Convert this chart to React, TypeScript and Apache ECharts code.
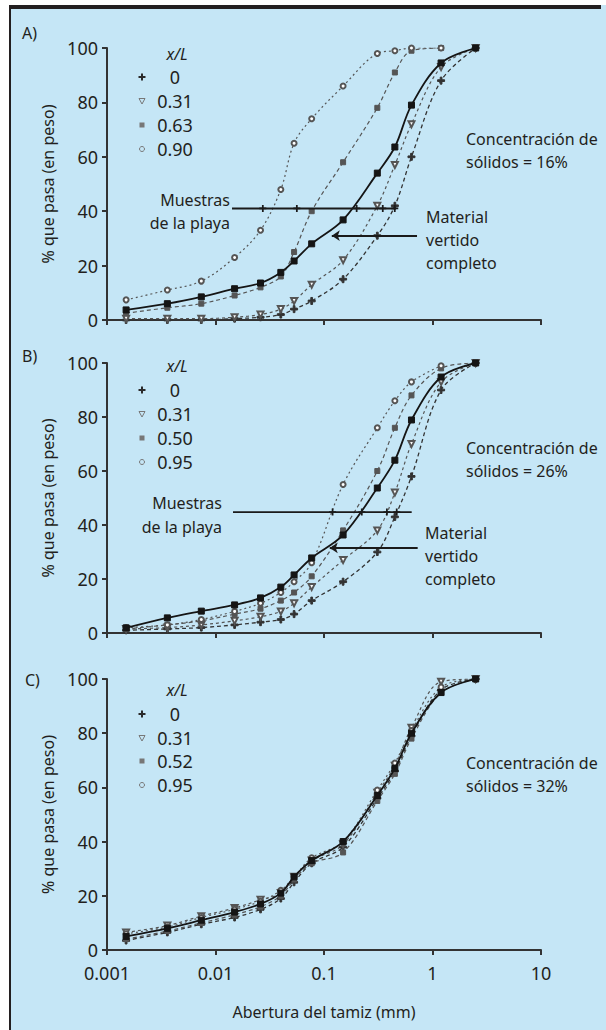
import React, { useEffect, useRef } from "react";
import * as echarts from "echarts";

// ---------- DATA ----------
const SIEVE_MM = [0.0015, 0.0036, 0.0074, 0.015, 0.026, 0.04, 0.053, 0.077, 0.15, 0.31, 0.45, 0.64, 1.2, 2.5];
const Y_TICKS = [0, 20, 40, 60, 80, 100];
const X_TICKS = ["0.001", "0.01", "0.1", "1", "10"];
const X_NAME = "Abertura del tamiz (mm)";
const Y_NAME = "% que pasa (en peso)";
const PANEL_LABELS = ["A)", "B)", "C)"];
const CONCENTRATIONS = ["16%", "26%", "32%"];
const LEGEND_A = ["0", "0.31", "0.63", "0.90"];
const LEGEND_B = ["0", "0.31", "0.50", "0.95"];
const LEGEND_C = ["0", "0.31", "0.52", "0.95"];

// Panel A (16 %)
const A_VERTIDO = [3.7, 6, 8.5, 11.5, 13.6, 17.5, 21.7, 28, 36.8, 54, 63.6, 79, 94.5, 100];
const A_X0 = [0, 0, 0, 0.5, 1, 2, 4, 7, 15, 31, 42, 60, 88, 100];
const A_X031 = [0.5, 0.5, 0.5, 1, 2, 4, 7, 13, 22, 42, 57, 72, 93, 100];
const A_X063 = [2.5, 4.5, 6, 9, 12, 16, 25, 40, 58, 78, 91, 99, 100, null];
const A_X090 = [7.4, 11, 14.3, 23, 33, 48, 65, 74, 86, 98, 99, 100, 100, null];
const MUESTRAS_A_X = [0.0142, 0.0273, 0.0562, 0.2, 0.348, 0.449];
const MUESTRAS_A_Y = 41;
const VERTIDO_ARROW_A = [[0.72, 31], [0.118, 31]];

// Panel B (26 %)
const B_VERTIDO = [1.9, 5.6, 8.1, 10.4, 13, 17, 21.5, 27.8, 36.3, 53.7, 64, 78.9, 94.8, 100];
const B_X0 = [1, 1.5, 2, 3, 4, 5, 7, 12, 19, 30, 43, 58, 90, 100];
const B_X031 = [1.5, 2, 3, 4.5, 6, 8, 11, 17, 27, 38, 52, 70, 93, 100];
const B_X050 = [1.5, 3, 4.5, 7, 9, 12, 15, 21, 38, 60, 76, 88, 98, 100];
const B_X095 = [2, 3, 5, 8, 11, 15, 19, 26, 55, 76, 86, 93, 99, null];
const MUESTRAS_B_X = [0.0145, 0.12, 0.223, 0.38, 0.468, 0.643];
const MUESTRAS_B_Y = 44.8;
const VERTIDO_ARROW_B = [[0.73, 31.5], [0.113, 31.5]];

// Panel C (32 %)
const C_VERTIDO = [5, 8, 11, 14, 17, 21, 27, 33, 40, 57, 67, 80, 95, 100];
const C_X0 = [3.5, 6.5, 9.5, 12, 15, 19, 25, 32, 38, 56, 66, 79, 96, 100];
const C_X031 = [6.5, 9, 12.5, 15.5, 18.5, 21, 27, 33, 39, 58, 68, 82, 99, 100];
const C_X052 = [4, 7, 10, 13, 16, 20, 26, 32, 36, 55, 65, 78, 95, 100];
const C_X095 = [6, 8.5, 12, 15, 18, 22, 27, 34, 40, 59, 69, 81, 97, 100];

// ---------- STYLE ----------
const FONT = "'Noto Sans', sans-serif";
const TEXT = "#231f20";
const AXIS = "#333333";
const BG = "#c5e6f6";
const PLUS = "path://M3,0H5V3H8V5H5V8H3V5H0V3H3Z";
const GRIDS = [
  { top: 48, height: 272 },
  { top: 363, height: 270 },
  { top: 679, height: 271 },
];
const SERIES_STYLE: any = {
  vertido: { color: "#151515", type: "solid", width: 1.8, symbol: "rect", size: 6, rotate: 0 },
  s0: { color: "#333333", type: [4, 3], width: 1.3, symbol: PLUS, size: 7, rotate: 0 },
  s1: { color: "#555555", type: [3, 3], width: 1.2, symbol: "emptyTriangle", size: 6, rotate: 180 },
  s2: { color: "#555555", type: [4, 3], width: 1.2, symbol: "rect", size: 5, rotate: 0 },
  s3: { color: "#555555", type: [2, 3], width: 1.2, symbol: "emptyCircle", size: 5, rotate: 0 },
};

function curve(name: string, values: (number | null)[], gi: number, key: string) {
  const st = SERIES_STYLE[key];
  const data: number[][] = [];
  values.forEach((v, k) => {
    if (v !== null && v !== undefined) data.push([SIEVE_MM[k], v]);
  });
  return {
    type: "line",
    name,
    xAxisIndex: gi,
    yAxisIndex: gi,
    data,
    smooth: 0.35,
    symbol: st.symbol,
    symbolSize: st.size,
    symbolRotate: st.rotate,
    lineStyle: { color: st.color, width: st.width, type: st.type },
    itemStyle: { color: st.color, borderColor: st.color },
    z: key === "vertido" ? 5 : 3,
  };
}

function muestrasLine(xs: number[], y: number, gi: number) {
  return {
    type: "line",
    name: "Muestras de la playa",
    xAxisIndex: gi,
    yAxisIndex: gi,
    data: xs.map((x, k) => ({ value: [x, y], symbol: k === 0 || (k === xs.length - 1 && gi === 1) ? "none" : PLUS })),
    symbol: PLUS,
    symbolSize: 7,
    lineStyle: { color: "#1a1a1a", width: 1.8 },
    itemStyle: { color: "#1a1a1a" },
    z: 6,
  };
}

function arrowLine(coords: number[][], gi: number) {
  return {
    type: "line",
    name: "Material vertido completo",
    xAxisIndex: gi,
    yAxisIndex: gi,
    data: [],
    markLine: {
      silent: true,
      symbol: ["none", "arrow"],
      symbolSize: 8,
      label: { show: false },
      lineStyle: { color: "#1a1a1a", width: 1.8, type: "solid" },
      data: [[{ coord: coords[0] }, { coord: coords[1] }]],
    },
  };
}

function txt(text: string, x: number, y: number, size: number, align = "left", italic = false) {
  return {
    type: "text",
    x,
    y,
    silent: true,
    style: {
      text,
      fill: TEXT,
      fontSize: size,
      fontFamily: FONT,
      fontStyle: italic ? "italic" : "normal",
      align,
      verticalAlign: "middle",
      textAlign: align,
      textVerticalAlign: "middle",
    },
  };
}

function legendMarker(k: number, cx: number, cy: number) {
  if (k === 0)
    return {
      type: "group",
      x: cx,
      y: cy,
      children: [
        { type: "rect", shape: { x: -3.5, y: -1, width: 7, height: 2 }, style: { fill: "#2a2a2a" } },
        { type: "rect", shape: { x: -1, y: -3.5, width: 2, height: 7 }, style: { fill: "#2a2a2a" } },
      ],
    };
  if (k === 1)
    return {
      type: "polygon",
      shape: { points: [[cx - 3, cy - 2.5], [cx + 3, cy - 2.5], [cx, cy + 3]] },
      style: { fill: "none", stroke: "#777", lineWidth: 1 },
    };
  if (k === 2)
    return { type: "rect", shape: { x: cx - 2.5, y: cy - 2.5, width: 5, height: 5 }, style: { fill: "#777" } };
  return { type: "circle", shape: { cx, cy, r: 2.5 }, style: { fill: "none", stroke: "#777", lineWidth: 1 } };
}

function legendBlock(names: string[], headY: number, rowYs: number[]) {
  const els: any[] = [txt("x/L", 177, headY, 16, "center", true)];
  names.forEach((n, k) => {
    els.push(legendMarker(k, 142, rowYs[k]));
    els.push(txt(n, 175, rowYs[k], 18, "center"));
  });
  return els;
}

function buildOption() {
  const xAxis = GRIDS.map((_, gi) => ({
    type: "log",
    logBase: 10,
    gridIndex: gi,
    min: 0.001,
    max: 10,
    axisLine: { show: true, onZero: false, lineStyle: { color: AXIS, width: 2 } },
    axisTick: { show: true, length: 5, lineStyle: { color: AXIS, width: 2 } },
    minorTick: { show: false },
    splitLine: { show: false },
    axisLabel: {
      show: gi === 2,
      fontSize: 18,
      color: TEXT,
      fontFamily: FONT,
      margin: 14,
      formatter: (v: number) => X_TICKS[Math.round(Math.log10(v)) + 3] ?? "",
    },
    name: gi === 2 ? X_NAME : "",
    nameLocation: "middle",
    nameGap: 54,
    nameTextStyle: { fontSize: 16, color: TEXT, fontFamily: FONT },
  }));
  const yAxis = GRIDS.map((_, gi) => ({
    type: "value",
    gridIndex: gi,
    min: Y_TICKS[0],
    max: Y_TICKS[Y_TICKS.length - 1],
    interval: 20,
    axisLine: { show: true, lineStyle: { color: AXIS, width: 2 } },
    axisTick: { show: true, length: 5, lineStyle: { color: AXIS, width: 2 } },
    splitLine: { show: false },
    axisLabel: { fontSize: 18, color: TEXT, fontFamily: FONT, margin: 9 },
    name: Y_NAME,
    nameLocation: "middle",
    nameGap: 50,
    nameRotate: 90,
    nameTextStyle: { fontSize: 16, color: TEXT, fontFamily: FONT },
  }));

  const series: any[] = [
    curve("Material vertido completo", A_VERTIDO, 0, "vertido"),
    curve(LEGEND_A[0], A_X0, 0, "s0"),
    curve(LEGEND_A[1], A_X031, 0, "s1"),
    curve(LEGEND_A[2], A_X063, 0, "s2"),
    curve(LEGEND_A[3], A_X090, 0, "s3"),
    muestrasLine(MUESTRAS_A_X, MUESTRAS_A_Y, 0),
    arrowLine(VERTIDO_ARROW_A, 0),

    curve("Material vertido completo", B_VERTIDO, 1, "vertido"),
    curve(LEGEND_B[0], B_X0, 1, "s0"),
    curve(LEGEND_B[1], B_X031, 1, "s1"),
    curve(LEGEND_B[2], B_X050, 1, "s2"),
    curve(LEGEND_B[3], B_X095, 1, "s3"),
    muestrasLine(MUESTRAS_B_X, MUESTRAS_B_Y, 1),
    arrowLine(VERTIDO_ARROW_B, 1),

    curve("Material vertido completo", C_VERTIDO, 2, "vertido"),
    curve(LEGEND_C[0], C_X0, 2, "s0"),
    curve(LEGEND_C[1], C_X031, 2, "s1"),
    curve(LEGEND_C[2], C_X052, 2, "s2"),
    curve(LEGEND_C[3], C_X095, 2, "s3"),
  ];

  const graphic: any[] = [
    // frame: white outside, dark top and left rules
    { type: "rect", shape: { x: 0, y: 0, width: 606, height: 5 }, style: { fill: "#ffffff" }, silent: true },
    { type: "rect", shape: { x: 0, y: 0, width: 9, height: 1030 }, style: { fill: "#ffffff" }, silent: true },
    { type: "rect", shape: { x: 9, y: 5, width: 592, height: 4 }, style: { fill: "#231f20" }, silent: true },
    { type: "rect", shape: { x: 9, y: 5, width: 2, height: 1025 }, style: { fill: "#231f20" }, silent: true },

    txt(PANEL_LABELS[0], 22, 33, 16),
    txt(PANEL_LABELS[1], 22, 356, 16),
    txt(PANEL_LABELS[2], 25, 680, 16),

    ...legendBlock(LEGEND_A, 54, [77, 101, 125, 149]),
    ...legendBlock(LEGEND_B, 366, [390, 414, 438, 462]),
    ...legendBlock(LEGEND_C, 690, [714, 738, 761, 785]),

    txt("Muestras", 230, 200, 16, "right"),
    txt("de la playa", 230, 223, 16, "right"),
    txt("Material", 426, 217, 16),
    txt("vertido", 426, 240, 16),
    txt("completo", 426, 263, 16),
    txt("Concentración de", 466, 139, 16),
    txt("sólidos = " + CONCENTRATIONS[0], 466, 162, 16),

    txt("Muestras", 222, 503, 16, "right"),
    txt("de la playa", 222, 527, 16, "right"),
    txt("Material", 425, 533, 16),
    txt("vertido", 425, 556, 16),
    txt("completo", 425, 579, 16),
    txt("Concentración de", 466, 448, 16),
    txt("sólidos = " + CONCENTRATIONS[1], 466, 471, 16),

    txt("Concentración de", 466, 763, 16),
    txt("sólidos = " + CONCENTRATIONS[2], 466, 786, 16),
  ];

  return {
    animation: false,
    backgroundColor: BG,
    textStyle: { fontFamily: FONT },
    grid: GRIDS.map((g) => ({ left: 107, width: 434, top: g.top, height: g.height, containLabel: false })),
    xAxis,
    yAxis,
    series,
    graphic,
  };
}

export default function App() {
  const ref = useRef<HTMLDivElement>(null);
  useEffect(() => {
    document.body.style.margin = "0";
    const chart = echarts.init(ref.current as HTMLDivElement, null, { renderer: "svg" });
    chart.setOption(buildOption() as any);
    return () => chart.dispose();
  }, []);
  return <div ref={ref} style={{ width: 606, height: 1030 }} />;
}
